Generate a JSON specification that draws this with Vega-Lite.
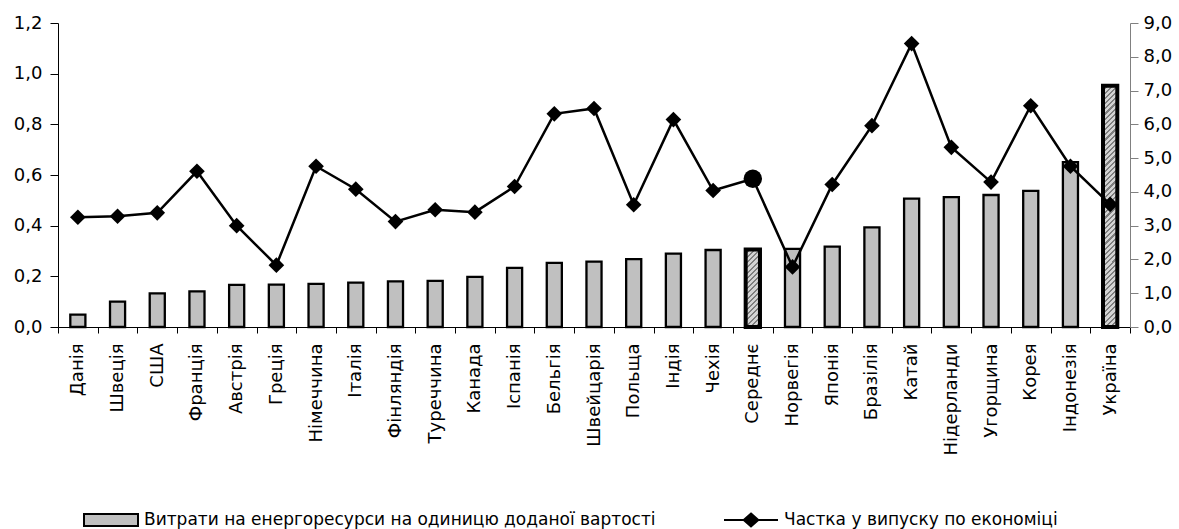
{
  "$schema": "https://vega.github.io/schema/vega-lite/v6.json",
  "width": 1072,
  "height": 304,
  "autosize": {"type": "none"},
  "padding": {"left": 58, "top": 23, "right": 49, "bottom": 202},
  "background": "white",
  "config": {
    "view": {"stroke": null},
    "font": "DejaVu Sans",
    "axis": {"labelFont": "DejaVu Sans", "labelColor": "black", "grid": false, "titleFontSize": 0}
  },
  "data": {
    "values": [
      {"country": "Данія", "energy": 0.049, "share": 3.25},
      {"country": "Швеція", "energy": 0.100, "share": 3.28},
      {"country": "США", "energy": 0.133, "share": 3.38},
      {"country": "Франція", "energy": 0.141, "share": 4.61},
      {"country": "Австрія", "energy": 0.166, "share": 3.00},
      {"country": "Греція", "energy": 0.167, "share": 1.83},
      {"country": "Німеччина", "energy": 0.170, "share": 4.76},
      {"country": "Італія", "energy": 0.175, "share": 4.08},
      {"country": "Фінляндія", "energy": 0.180, "share": 3.12},
      {"country": "Туреччина", "energy": 0.182, "share": 3.47},
      {"country": "Канада", "energy": 0.198, "share": 3.40},
      {"country": "Іспанія", "energy": 0.233, "share": 4.16},
      {"country": "Бельгія", "energy": 0.253, "share": 6.31},
      {"country": "Швейцарія", "energy": 0.258, "share": 6.47},
      {"country": "Польща", "energy": 0.268, "share": 3.62},
      {"country": "Індія", "energy": 0.290, "share": 6.14},
      {"country": "Чехія", "energy": 0.304, "share": 4.04},
      {"country": "Середнє", "energy": 0.306, "share": 4.39},
      {"country": "Норвегія", "energy": 0.308, "share": 1.78},
      {"country": "Японія", "energy": 0.317, "share": 4.22},
      {"country": "Бразілія", "energy": 0.393, "share": 5.96},
      {"country": "Катай", "energy": 0.507, "share": 8.39},
      {"country": "Нідерланди", "energy": 0.513, "share": 5.32},
      {"country": "Угорщина", "energy": 0.521, "share": 4.29},
      {"country": "Корея", "energy": 0.537, "share": 6.55},
      {"country": "Індонезія", "energy": 0.651, "share": 4.76},
      {"country": "Україна", "energy": 0.952, "share": 3.63}
    ]
  },
  "encoding": {
    "x": {
      "field": "country",
      "type": "nominal",
      "sort": null,
      "scale": {"paddingInner": 0, "paddingOuter": 0},
      "axis": {
        "title": null,
        "labelAngle": -90,
        "labelFontSize": 18,
        "labelPadding": 10,
        "tickSize": 6,
        "tickBand": "extent",
        "tickColor": "black",
        "domainColor": "black",
        "labelLimit": 0
      }
    }
  },
  "layer": [
    {
      "encoding": {
        "y": {
          "field": "energy",
          "type": "quantitative",
          "scale": {"domain": [0, 1.2], "nice": false},
          "axis": {
            "title": null,
            "orient": "left",
            "values": [0, 0.2, 0.4, 0.6, 0.8, 1.0, 1.2],
            "labelExpr": "replace(format(datum.value, '.1f'), '.', ',')",
            "labelFontSize": 18,
            "tickSize": 8,
            "labelPadding": 8,
            "tickColor": "black",
            "domainColor": "black"
          }
        }
      },
      "layer": [
        {
          "mark": {"type": "bar", "width": {"band": 0.38}, "stroke": "black", "strokeWidth": 2.3},
          "encoding": {
            "fill": {
              "datum": "Витрати на енергоресурси на одиницю доданої вартості",
              "type": "nominal",
              "scale": {"range": ["#c0c0c0"]},
              "legend": {
                "title": null,
                "orient": "none",
                "legendX": 25,
                "legendY": 469,
                "symbolType": "M-1,-0.22H1V0.22H-1Z",
                "symbolSize": 2916,
                "symbolStrokeColor": "black",
                "symbolStrokeWidth": 2,
                "symbolFillColor": "#c0c0c0",
                "labelFont": "DejaVu Sans",
                "labelFontSize": 17,
                "labelColor": "black",
                "labelLimit": 800,
                "labelOffset": 5
              }
            }
          }
        },
        {
          "transform": [{"filter": "datum.country === 'Середнє'"}],
          "mark": {"type": "bar", "width": {"band": 0.36}, "stroke": "black", "strokeWidth": 4,
            "fill": {"gradient": "linear", "x1": 0, "y1": 0, "x2": 0.599, "y2": 3.244, "stops": [
              {"offset":0,"color":"#d4d4d4"},{"offset":0.012,"color":"#d4d4d4"},{"offset":0.012,"color":"#7f7f7f"},{"offset":0.02,"color":"#7f7f7f"},
              {"offset":0.02,"color":"#d4d4d4"},{"offset":0.032,"color":"#d4d4d4"},{"offset":0.032,"color":"#7f7f7f"},{"offset":0.04,"color":"#7f7f7f"},
              {"offset":0.04,"color":"#d4d4d4"},{"offset":0.052,"color":"#d4d4d4"},{"offset":0.052,"color":"#7f7f7f"},{"offset":0.06,"color":"#7f7f7f"},
              {"offset":0.06,"color":"#d4d4d4"},{"offset":0.072,"color":"#d4d4d4"},{"offset":0.072,"color":"#7f7f7f"},{"offset":0.08,"color":"#7f7f7f"},
              {"offset":0.08,"color":"#d4d4d4"},{"offset":0.092,"color":"#d4d4d4"},{"offset":0.092,"color":"#7f7f7f"},{"offset":0.1,"color":"#7f7f7f"},
              {"offset":0.1,"color":"#d4d4d4"},{"offset":0.112,"color":"#d4d4d4"},{"offset":0.112,"color":"#7f7f7f"},{"offset":0.12,"color":"#7f7f7f"},
              {"offset":0.12,"color":"#d4d4d4"},{"offset":0.132,"color":"#d4d4d4"},{"offset":0.132,"color":"#7f7f7f"},{"offset":0.14,"color":"#7f7f7f"},
              {"offset":0.14,"color":"#d4d4d4"},{"offset":0.152,"color":"#d4d4d4"},{"offset":0.152,"color":"#7f7f7f"},{"offset":0.16,"color":"#7f7f7f"},
              {"offset":0.16,"color":"#d4d4d4"},{"offset":0.172,"color":"#d4d4d4"},{"offset":0.172,"color":"#7f7f7f"},{"offset":0.18,"color":"#7f7f7f"},
              {"offset":0.18,"color":"#d4d4d4"},{"offset":0.192,"color":"#d4d4d4"},{"offset":0.192,"color":"#7f7f7f"},{"offset":0.2,"color":"#7f7f7f"},
              {"offset":0.2,"color":"#d4d4d4"},{"offset":0.212,"color":"#d4d4d4"},{"offset":0.212,"color":"#7f7f7f"},{"offset":0.22,"color":"#7f7f7f"},
              {"offset":0.22,"color":"#d4d4d4"},{"offset":0.232,"color":"#d4d4d4"},{"offset":0.232,"color":"#7f7f7f"},{"offset":0.24,"color":"#7f7f7f"},
              {"offset":0.24,"color":"#d4d4d4"},{"offset":0.252,"color":"#d4d4d4"},{"offset":0.252,"color":"#7f7f7f"},{"offset":0.26,"color":"#7f7f7f"},
              {"offset":0.26,"color":"#d4d4d4"},{"offset":0.272,"color":"#d4d4d4"},{"offset":0.272,"color":"#7f7f7f"},{"offset":0.28,"color":"#7f7f7f"},
              {"offset":0.28,"color":"#d4d4d4"},{"offset":0.292,"color":"#d4d4d4"},{"offset":0.292,"color":"#7f7f7f"},{"offset":0.3,"color":"#7f7f7f"},
              {"offset":0.3,"color":"#d4d4d4"},{"offset":0.312,"color":"#d4d4d4"},{"offset":0.312,"color":"#7f7f7f"},{"offset":0.32,"color":"#7f7f7f"},
              {"offset":0.32,"color":"#d4d4d4"},{"offset":0.332,"color":"#d4d4d4"},{"offset":0.332,"color":"#7f7f7f"},{"offset":0.34,"color":"#7f7f7f"},
              {"offset":0.34,"color":"#d4d4d4"},{"offset":0.352,"color":"#d4d4d4"},{"offset":0.352,"color":"#7f7f7f"},{"offset":0.36,"color":"#7f7f7f"},
              {"offset":0.36,"color":"#d4d4d4"},{"offset":0.372,"color":"#d4d4d4"},{"offset":0.372,"color":"#7f7f7f"},{"offset":0.38,"color":"#7f7f7f"}
            ]}}
        },
        {
          "transform": [{"filter": "datum.country === 'Україна'"}],
          "mark": {"type": "bar", "width": {"band": 0.36}, "stroke": "black", "strokeWidth": 4,
            "fill": {"gradient": "linear", "x1": 0, "y1": 0, "x2": 0.0637, "y2": 1.0746, "stops": [
              {"offset":0,"color":"#d4d4d4"},{"offset":0.012,"color":"#d4d4d4"},{"offset":0.012,"color":"#7f7f7f"},{"offset":0.02,"color":"#7f7f7f"},
              {"offset":0.02,"color":"#d4d4d4"},{"offset":0.032,"color":"#d4d4d4"},{"offset":0.032,"color":"#7f7f7f"},{"offset":0.04,"color":"#7f7f7f"},
              {"offset":0.04,"color":"#d4d4d4"},{"offset":0.052,"color":"#d4d4d4"},{"offset":0.052,"color":"#7f7f7f"},{"offset":0.06,"color":"#7f7f7f"},
              {"offset":0.06,"color":"#d4d4d4"},{"offset":0.072,"color":"#d4d4d4"},{"offset":0.072,"color":"#7f7f7f"},{"offset":0.08,"color":"#7f7f7f"},
              {"offset":0.08,"color":"#d4d4d4"},{"offset":0.092,"color":"#d4d4d4"},{"offset":0.092,"color":"#7f7f7f"},{"offset":0.1,"color":"#7f7f7f"},
              {"offset":0.1,"color":"#d4d4d4"},{"offset":0.112,"color":"#d4d4d4"},{"offset":0.112,"color":"#7f7f7f"},{"offset":0.12,"color":"#7f7f7f"},
              {"offset":0.12,"color":"#d4d4d4"},{"offset":0.132,"color":"#d4d4d4"},{"offset":0.132,"color":"#7f7f7f"},{"offset":0.14,"color":"#7f7f7f"},
              {"offset":0.14,"color":"#d4d4d4"},{"offset":0.152,"color":"#d4d4d4"},{"offset":0.152,"color":"#7f7f7f"},{"offset":0.16,"color":"#7f7f7f"},
              {"offset":0.16,"color":"#d4d4d4"},{"offset":0.172,"color":"#d4d4d4"},{"offset":0.172,"color":"#7f7f7f"},{"offset":0.18,"color":"#7f7f7f"},
              {"offset":0.18,"color":"#d4d4d4"},{"offset":0.192,"color":"#d4d4d4"},{"offset":0.192,"color":"#7f7f7f"},{"offset":0.2,"color":"#7f7f7f"},
              {"offset":0.2,"color":"#d4d4d4"},{"offset":0.212,"color":"#d4d4d4"},{"offset":0.212,"color":"#7f7f7f"},{"offset":0.22,"color":"#7f7f7f"},
              {"offset":0.22,"color":"#d4d4d4"},{"offset":0.232,"color":"#d4d4d4"},{"offset":0.232,"color":"#7f7f7f"},{"offset":0.24,"color":"#7f7f7f"},
              {"offset":0.24,"color":"#d4d4d4"},{"offset":0.252,"color":"#d4d4d4"},{"offset":0.252,"color":"#7f7f7f"},{"offset":0.26,"color":"#7f7f7f"},
              {"offset":0.26,"color":"#d4d4d4"},{"offset":0.272,"color":"#d4d4d4"},{"offset":0.272,"color":"#7f7f7f"},{"offset":0.28,"color":"#7f7f7f"},
              {"offset":0.28,"color":"#d4d4d4"},{"offset":0.292,"color":"#d4d4d4"},{"offset":0.292,"color":"#7f7f7f"},{"offset":0.3,"color":"#7f7f7f"},
              {"offset":0.3,"color":"#d4d4d4"},{"offset":0.312,"color":"#d4d4d4"},{"offset":0.312,"color":"#7f7f7f"},{"offset":0.32,"color":"#7f7f7f"},
              {"offset":0.32,"color":"#d4d4d4"},{"offset":0.332,"color":"#d4d4d4"},{"offset":0.332,"color":"#7f7f7f"},{"offset":0.34,"color":"#7f7f7f"},
              {"offset":0.34,"color":"#d4d4d4"},{"offset":0.352,"color":"#d4d4d4"},{"offset":0.352,"color":"#7f7f7f"},{"offset":0.36,"color":"#7f7f7f"},
              {"offset":0.36,"color":"#d4d4d4"},{"offset":0.372,"color":"#d4d4d4"},{"offset":0.372,"color":"#7f7f7f"},{"offset":0.38,"color":"#7f7f7f"},
              {"offset":0.38,"color":"#d4d4d4"},{"offset":0.392,"color":"#d4d4d4"},{"offset":0.392,"color":"#7f7f7f"},{"offset":0.4,"color":"#7f7f7f"},
              {"offset":0.4,"color":"#d4d4d4"},{"offset":0.412,"color":"#d4d4d4"},{"offset":0.412,"color":"#7f7f7f"},{"offset":0.42,"color":"#7f7f7f"},
              {"offset":0.42,"color":"#d4d4d4"},{"offset":0.432,"color":"#d4d4d4"},{"offset":0.432,"color":"#7f7f7f"},{"offset":0.44,"color":"#7f7f7f"},
              {"offset":0.44,"color":"#d4d4d4"},{"offset":0.452,"color":"#d4d4d4"},{"offset":0.452,"color":"#7f7f7f"},{"offset":0.46,"color":"#7f7f7f"},
              {"offset":0.46,"color":"#d4d4d4"},{"offset":0.472,"color":"#d4d4d4"},{"offset":0.472,"color":"#7f7f7f"},{"offset":0.48,"color":"#7f7f7f"},
              {"offset":0.48,"color":"#d4d4d4"},{"offset":0.492,"color":"#d4d4d4"},{"offset":0.492,"color":"#7f7f7f"},{"offset":0.5,"color":"#7f7f7f"},
              {"offset":0.5,"color":"#d4d4d4"},{"offset":0.512,"color":"#d4d4d4"},{"offset":0.512,"color":"#7f7f7f"},{"offset":0.52,"color":"#7f7f7f"},
              {"offset":0.52,"color":"#d4d4d4"},{"offset":0.532,"color":"#d4d4d4"},{"offset":0.532,"color":"#7f7f7f"},{"offset":0.54,"color":"#7f7f7f"},
              {"offset":0.54,"color":"#d4d4d4"},{"offset":0.552,"color":"#d4d4d4"},{"offset":0.552,"color":"#7f7f7f"},{"offset":0.56,"color":"#7f7f7f"},
              {"offset":0.56,"color":"#d4d4d4"},{"offset":0.572,"color":"#d4d4d4"},{"offset":0.572,"color":"#7f7f7f"},{"offset":0.58,"color":"#7f7f7f"},
              {"offset":0.58,"color":"#d4d4d4"},{"offset":0.592,"color":"#d4d4d4"},{"offset":0.592,"color":"#7f7f7f"},{"offset":0.6,"color":"#7f7f7f"},
              {"offset":0.6,"color":"#d4d4d4"},{"offset":0.612,"color":"#d4d4d4"},{"offset":0.612,"color":"#7f7f7f"},{"offset":0.62,"color":"#7f7f7f"},
              {"offset":0.62,"color":"#d4d4d4"},{"offset":0.632,"color":"#d4d4d4"},{"offset":0.632,"color":"#7f7f7f"},{"offset":0.64,"color":"#7f7f7f"},
              {"offset":0.64,"color":"#d4d4d4"},{"offset":0.652,"color":"#d4d4d4"},{"offset":0.652,"color":"#7f7f7f"},{"offset":0.66,"color":"#7f7f7f"},
              {"offset":0.66,"color":"#d4d4d4"},{"offset":0.672,"color":"#d4d4d4"},{"offset":0.672,"color":"#7f7f7f"},{"offset":0.68,"color":"#7f7f7f"},
              {"offset":0.68,"color":"#d4d4d4"},{"offset":0.692,"color":"#d4d4d4"},{"offset":0.692,"color":"#7f7f7f"},{"offset":0.7,"color":"#7f7f7f"},
              {"offset":0.7,"color":"#d4d4d4"},{"offset":0.712,"color":"#d4d4d4"},{"offset":0.712,"color":"#7f7f7f"},{"offset":0.72,"color":"#7f7f7f"},
              {"offset":0.72,"color":"#d4d4d4"},{"offset":0.732,"color":"#d4d4d4"},{"offset":0.732,"color":"#7f7f7f"},{"offset":0.74,"color":"#7f7f7f"},
              {"offset":0.74,"color":"#d4d4d4"},{"offset":0.752,"color":"#d4d4d4"},{"offset":0.752,"color":"#7f7f7f"},{"offset":0.76,"color":"#7f7f7f"},
              {"offset":0.76,"color":"#d4d4d4"},{"offset":0.772,"color":"#d4d4d4"},{"offset":0.772,"color":"#7f7f7f"},{"offset":0.78,"color":"#7f7f7f"},
              {"offset":0.78,"color":"#d4d4d4"},{"offset":0.792,"color":"#d4d4d4"},{"offset":0.792,"color":"#7f7f7f"},{"offset":0.8,"color":"#7f7f7f"},
              {"offset":0.8,"color":"#d4d4d4"},{"offset":0.812,"color":"#d4d4d4"},{"offset":0.812,"color":"#7f7f7f"},{"offset":0.82,"color":"#7f7f7f"},
              {"offset":0.82,"color":"#d4d4d4"},{"offset":0.832,"color":"#d4d4d4"},{"offset":0.832,"color":"#7f7f7f"},{"offset":0.84,"color":"#7f7f7f"},
              {"offset":0.84,"color":"#d4d4d4"},{"offset":0.852,"color":"#d4d4d4"},{"offset":0.852,"color":"#7f7f7f"},{"offset":0.86,"color":"#7f7f7f"},
              {"offset":0.86,"color":"#d4d4d4"},{"offset":0.872,"color":"#d4d4d4"},{"offset":0.872,"color":"#7f7f7f"},{"offset":0.88,"color":"#7f7f7f"},
              {"offset":0.88,"color":"#d4d4d4"},{"offset":0.892,"color":"#d4d4d4"},{"offset":0.892,"color":"#7f7f7f"},{"offset":0.9,"color":"#7f7f7f"},
              {"offset":0.9,"color":"#d4d4d4"},{"offset":0.912,"color":"#d4d4d4"},{"offset":0.912,"color":"#7f7f7f"},{"offset":0.92,"color":"#7f7f7f"},
              {"offset":0.92,"color":"#d4d4d4"},{"offset":0.932,"color":"#d4d4d4"},{"offset":0.932,"color":"#7f7f7f"},{"offset":0.94,"color":"#7f7f7f"},
              {"offset":0.94,"color":"#d4d4d4"},{"offset":0.952,"color":"#d4d4d4"},{"offset":0.952,"color":"#7f7f7f"},{"offset":0.96,"color":"#7f7f7f"},
              {"offset":0.96,"color":"#d4d4d4"},{"offset":0.972,"color":"#d4d4d4"},{"offset":0.972,"color":"#7f7f7f"},{"offset":0.98,"color":"#7f7f7f"},
              {"offset":0.98,"color":"#d4d4d4"},{"offset":0.992,"color":"#d4d4d4"},{"offset":0.992,"color":"#7f7f7f"},{"offset":1,"color":"#7f7f7f"}
            ]}}
        }
      ]
    },
    {
      "encoding": {
        "y": {
          "field": "share",
          "type": "quantitative",
          "scale": {"domain": [0, 9], "nice": false},
          "axis": {
            "title": null,
            "orient": "right",
            "values": [0, 1, 2, 3, 4, 5, 6, 7, 8, 9],
            "labelExpr": "replace(format(datum.value, '.1f'), '.', ',')",
            "labelFontSize": 18,
            "tickSize": 8,
            "labelPadding": 5,
            "tickColor": "#808080",
            "domainColor": "#808080"
          }
        }
      },
      "layer": [
        {
          "mark": {"type": "line", "strokeWidth": 2.5},
          "encoding": {
            "stroke": {
              "datum": "Частка у випуску по економіці",
              "type": "nominal",
              "scale": {"range": ["black"]},
              "legend": {
                "title": null,
                "orient": "none",
                "legendX": 665,
                "legendY": 469,
                "symbolType": "M-1,0H1M0,-0.24L0.27,0L0,0.24L-0.27,0Z",
                "symbolSize": 2916,
                "symbolStrokeColor": "black",
                "symbolStrokeWidth": 2,
                "symbolFillColor": "black",
                "labelFont": "DejaVu Sans",
                "labelFontSize": 17,
                "labelColor": "black",
                "labelLimit": 800,
                "labelOffset": 5
              }
            }
          }
        },
        {
          "mark": {"type": "point", "filled": true, "color": "black", "opacity": 1},
          "encoding": {
            "shape": {
              "condition": {"test": "datum.country === 'Середнє'", "value": "circle"},
              "value": "diamond"
            },
            "size": {
              "condition": {"test": "datum.country === 'Середнє'", "value": 340},
              "value": 245
            }
          }
        }
      ]
    }
  ],
  "resolve": {"scale": {"y": "independent", "fill": "independent", "stroke": "independent"}}
}
